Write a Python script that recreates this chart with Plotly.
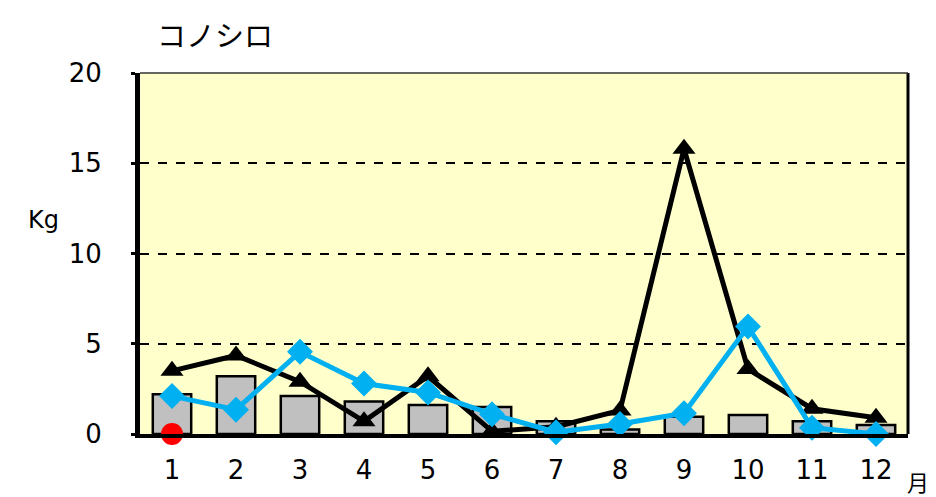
import plotly.graph_objects as go

months = [1, 2, 3, 4, 5, 6, 7, 8, 9, 10, 11, 12]
month_labels = ["1", "2", "3", "4", "5", "6", "7", "8", "9", "10", "11", "12"]
bar_values = [2.2, 3.2, 2.1, 1.8, 1.6, 1.5, 0.7, 0.25, 0.95, 1.05, 0.7, 0.5]
black_values = [3.5, 4.35, 2.9, 0.7, 3.2, 0.15, 0.4, 1.3, 15.8, 3.6, 1.4, 0.9]
blue_values = [2.1, 1.35, 4.55, 2.8, 2.3, 1.1, 0.1, 0.55, 1.15, 5.95, 0.35, 0.0]
red_month = [1]
red_value = [0.0]
y_ticks = [0, 5, 10, 15, 20]

font_main = "DejaVu Sans, Verdana, sans-serif"

fig = go.Figure()
fig.add_trace(go.Bar(
    x=months, y=bar_values, width=0.6,
    marker=dict(color="#C0C0C0", line=dict(color="black", width=2.5)),
    showlegend=False,
))
fig.add_trace(go.Scatter(
    x=months, y=black_values, mode="lines+markers",
    line=dict(color="black", width=5),
    marker=dict(symbol="triangle-up", size=20, color="black"),
    cliponaxis=False, showlegend=False,
))
fig.add_trace(go.Scatter(
    x=months, y=blue_values, mode="lines+markers",
    line=dict(color="#00B0F0", width=5),
    marker=dict(symbol="diamond", size=20, color="#00B0F0"),
    cliponaxis=False, showlegend=False,
))
fig.add_trace(go.Scatter(
    x=red_month, y=red_value, mode="markers",
    marker=dict(symbol="circle", size=22, color="#FF0000"),
    cliponaxis=False, showlegend=False,
))

fig.update_layout(
    width=936, height=497,
    margin=dict(l=140, r=28, t=73, b=63, autoexpand=False),
    paper_bgcolor="white",
    plot_bgcolor="#FFFFCC",
    font=dict(family=font_main, size=26, color="black"),
    bargap=0.4,
    xaxis=dict(
        range=[0.5, 12.5], tickmode="array", tickvals=months, ticktext=month_labels,
        showgrid=False, zeroline=False, showline=True, linecolor="black", linewidth=4,
        ticks="", tickfont=dict(size=26), ticklabelstandoff=10,
        automargin=False,
    ),
    yaxis=dict(
        range=[0, 20], tickmode="array", tickvals=y_ticks,
        showgrid=True, gridcolor="black", gridwidth=2, griddash="dash",
        zeroline=False, showline=True, linecolor="black", linewidth=5,
        ticks="outside", ticklen=4, tickwidth=3, tickcolor="black",
        tickfont=dict(size=26), ticklabelstandoff=24, automargin=False,
    ),
    shapes=[
        dict(type="line", xref="paper", yref="paper", x0=1, x1=1, y0=0, y1=1,
             line=dict(color="black", width=3)),
        dict(type="line", xref="paper", yref="paper", x0=0, x1=1, y0=1, y1=1,
             line=dict(color="#333333", width=1.5)),
    ],
    annotations=[
        dict(text="コノシロ", xref="paper", yref="paper", x=0.0195, y=1.0, yshift=39,
             xanchor="left", yanchor="middle", showarrow=False,
             font=dict(family="Noto Sans CJK JP", size=29, color="black")),
        dict(text="Kg", xref="paper", yref="paper", x=-0.126, y=0.593,
             xanchor="center", yanchor="middle", showarrow=False,
             font=dict(family=font_main, size=24, color="black")),
        dict(text="月", xref="paper", yref="paper", x=1.0, y=0, yshift=-47, xshift=10,
             xanchor="center", yanchor="middle", showarrow=False,
             font=dict(family="Noto Sans CJK JP", size=22, color="black")),
    ],
)

fig.write_html("out.html", config={"displayModeBar": False},
               post_script="document.body.style.margin='0';")
